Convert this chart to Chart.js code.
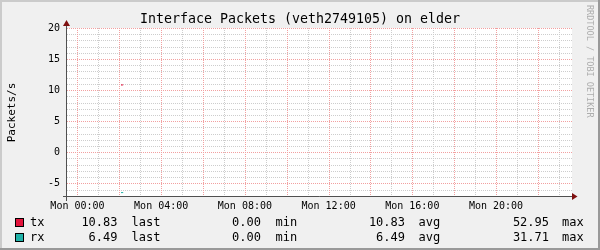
<!DOCTYPE html>
<html>
<head>
<meta charset="utf-8">
<script src="https://cdn.jsdelivr.net/npm/chart.js@4.4.0/dist/chart.umd.min.js"></script>
<style>
html,body{margin:0;padding:0;background:#F0F0F0;}
#wrap{position:relative;width:600px;height:250px;overflow:hidden;}
canvas{position:absolute;left:0;top:0;}
.t{position:absolute;font-family:"DejaVu Sans Mono",monospace;font-size:12px;line-height:12px;white-space:pre;color:#000;}
.r{text-align:right;}
.sw{position:absolute;width:9px;height:9px;box-sizing:border-box;border:1px solid #000;}
#wm{position:absolute;left:585px;top:5px;font-family:"DejaVu Sans Mono",monospace;font-size:8.5px;line-height:10px;color:#ADADAD;writing-mode:vertical-rl;white-space:pre;}
</style>
</head>
<body>
<div id="wrap">
<canvas id="c" width="600" height="250"></canvas>
<div id="wm">RRDTOOL / TOBI OETIKER</div>
</div>
<script>
// ---- data ----
const chartTitle = 'Interface Packets (veth2749105) on elder';
const yAxisTitle = 'Packets/s';
const sampleHours = [2.083, 2.167];      // hours after Mon 00:00
const txValues = [10.83, 10.83];
const rxValues = [6.49, 6.49];           // drawn mirrored below zero
const xTickHours = [0, 4, 8, 12, 16, 20];
const xTickLabels = ['Mon 00:00', 'Mon 04:00', 'Mon 08:00', 'Mon 12:00', 'Mon 16:00', 'Mon 20:00'];
const yTickValues = [-5, 0, 5, 10, 15, 20];
const seriesNames = ['tx', 'rx'];
const seriesColors = ['#E3143C', '#20B2A8'];
const statLast = [10.83, 6.49];
const statMin = [0.00, 0.00];
const statAvg = [10.83, 6.49];
const statMax = [52.95, 31.71];

const X_MIN = -0.5, X_MAX = 23.63, Y_MIN = -7.2, Y_MAX = 20;
const MONO = '"DejaVu Sans Mono", monospace';

// ---- legend (HTML text) ----
const wrap = document.getElementById('wrap');
function addText(txt, left, top, right) {
  const d = document.createElement('div');
  d.className = 't' + (right ? ' r' : '');
  d.textContent = txt;
  if (right) { d.style.left = (left - 80) + 'px'; d.style.width = '80px'; }
  else d.style.left = left + 'px';
  d.style.top = top + 'px';
  wrap.appendChild(d);
}
seriesNames.forEach((name, i) => {
  const top = 216 + i * 15;
  const sw = document.createElement('div');
  sw.className = 'sw';
  sw.style.left = '15px';
  sw.style.top = (218 + i * 15) + 'px';
  sw.style.background = seriesColors[i];
  wrap.appendChild(sw);
  addText(name, 30, top);
  addText(statLast[i].toFixed(2), 117.5, top, true);
  addText('last', 131.5, top);
  addText(statMin[i].toFixed(2), 261, top, true);
  addText('min', 275.5, top);
  addText(statAvg[i].toFixed(2), 405, top, true);
  addText('avg', 418.5, top);
  addText(statMax[i].toFixed(2), 549, top, true);
  addText('max', 562, top);
});

// ---- plugins ----
const MINOR = '#CDCDCD', MAJOR = '#F2A0A0';
const bgPlugin = {
  id: 'bg',
  beforeDraw(chart) {
    const c = chart.ctx, a = chart.chartArea, W = chart.width, H = chart.height;
    c.save();
    c.fillStyle = '#F0F0F0'; c.fillRect(0, 0, W, H);
    c.fillStyle = '#CBCBCB'; c.fillRect(0, 0, W, 2); c.fillRect(0, 0, 2, H);
    c.fillStyle = '#999999'; c.fillRect(W - 2, 0, 2, H); c.fillRect(0, H - 2, W, 2);
    c.fillStyle = '#FFFFFF'; c.fillRect(a.left, a.top, a.right - a.left, a.bottom - a.top);
    c.restore();
  },
  beforeDatasetsDraw(chart) {
    const c = chart.ctx, a = chart.chartArea, xs = chart.scales.x, ys = chart.scales.y;
    const L = Math.round(a.left), R = Math.round(a.right), T = Math.round(a.top), B = Math.round(a.bottom);
    c.save();
    const vline = (x, col) => { c.fillStyle = col; for (let y = T; y < B; y += 2) c.fillRect(x, y, 1, 1); };
    const hline = (y, col) => { c.fillStyle = col; for (let x = L; x < R; x += 2) c.fillRect(x, y, 1, 1); };
    const hs = [], vs = [];
    for (let h = Math.ceil(X_MIN); h <= X_MAX; h++) hs.push(h);
    for (let v = Math.ceil(Y_MIN); v <= Y_MAX; v++) vs.push(v);
    hs.forEach(h => { if (Math.abs(h % 2) === 1) vline(Math.round(xs.getPixelForValue(h)), MINOR); });
    vs.forEach(v => { if (v % 5 !== 0) hline(Math.round(ys.getPixelForValue(v)), MINOR); });
    hs.forEach(h => { if (h % 2 === 0) vline(Math.round(xs.getPixelForValue(h)), MAJOR); });
    vs.forEach(v => { if (v % 5 === 0) hline(Math.round(ys.getPixelForValue(v)), MAJOR); });
    c.restore();
  },
  afterDatasetsDraw(chart) {
    const c = chart.ctx, a = chart.chartArea;
    const ax = Math.round(a.left) - 0.5, ay = Math.round(a.bottom) - 0.5;
    c.save();
    c.setLineDash([]);
    c.lineWidth = 1;
    c.strokeStyle = '#505050';
    c.beginPath(); c.moveTo(a.left - 4, ay); c.lineTo(a.right + 4, ay); c.stroke();
    c.beginPath(); c.moveTo(ax, a.bottom + 4); c.lineTo(ax, a.top - 4); c.stroke();
    c.fillStyle = '#7F1010';
    c.beginPath(); c.moveTo(a.right, ay - 3.5); c.lineTo(a.right + 5.5, ay); c.lineTo(a.right, ay + 3.5); c.closePath(); c.fill();
    c.beginPath(); c.moveTo(ax - 3.5, a.top - 2); c.lineTo(ax, a.top - 8); c.lineTo(ax + 3.5, a.top - 2); c.closePath(); c.fill();
    c.restore();
  }
};

new Chart(document.getElementById('c'), {
  type: 'line',
  data: {
    datasets: [
      { label: seriesNames[0], data: sampleHours.map((h, i) => ({ x: h, y: txValues[i] })),
        borderColor: seriesColors[0], borderWidth: 1, pointRadius: 0, fill: false, tension: 0, borderCapStyle: 'round' },
      { label: seriesNames[1], data: sampleHours.map((h, i) => ({ x: h, y: -rxValues[i] })),
        borderColor: seriesColors[1], borderWidth: 1, pointRadius: 0, fill: false, tension: 0, borderCapStyle: 'round' }
    ]
  },
  options: {
    responsive: false,
    animation: false,
    devicePixelRatio: 1,
    layout: { padding: { left: 0, right: 0, top: 0, bottom: 33 } },
    plugins: {
      legend: { display: false },
      tooltip: { enabled: false },
      title: { display: true, text: chartTitle, color: '#000',
        font: { family: MONO, size: 13.3, weight: 'normal', lineHeight: 1.2 },
        padding: { top: 12, bottom: 0 } }
    },
    scales: {
      x: {
        type: 'linear', min: X_MIN, max: X_MAX,
        grid: { display: false, drawTicks: false }, border: { display: false },
        ticks: { color: '#000', font: { family: MONO, size: 10 }, padding: 3, maxRotation: 0, autoSkip: false,
          callback: v => { const i = xTickHours.indexOf(v); return i >= 0 ? xTickLabels[i] : ''; } },
        afterBuildTicks: s => { s.ticks = xTickHours.map(v => ({ value: v })); },
        afterFit: s => { s.height = 20; s.paddingLeft = 0; s.paddingRight = 0; }
      },
      y: {
        type: 'linear', min: Y_MIN, max: Y_MAX,
        grid: { display: false, drawTicks: false }, border: { display: false },
        ticks: { color: '#000', font: { family: MONO, size: 10 }, padding: 7 },
        afterBuildTicks: s => { s.ticks = yTickValues.map(v => ({ value: v })); },
        afterFit: s => { s.width = 67; s.paddingTop = 0; s.paddingBottom = 0; },
        title: { display: true, text: yAxisTitle, color: '#000', font: { family: MONO, size: 11 }, padding: { top: 5.4, bottom: 0 } }
      },
      yRight: {
        type: 'linear', position: 'right', min: Y_MIN, max: Y_MAX,
        grid: { display: false, drawTicks: false }, border: { display: false },
        ticks: { display: false },
        afterFit: s => { s.width = 28; s.paddingTop = 0; s.paddingBottom = 0; }
      }
    }
  },
  plugins: [bgPlugin]
});
</script>
</body>
</html>
